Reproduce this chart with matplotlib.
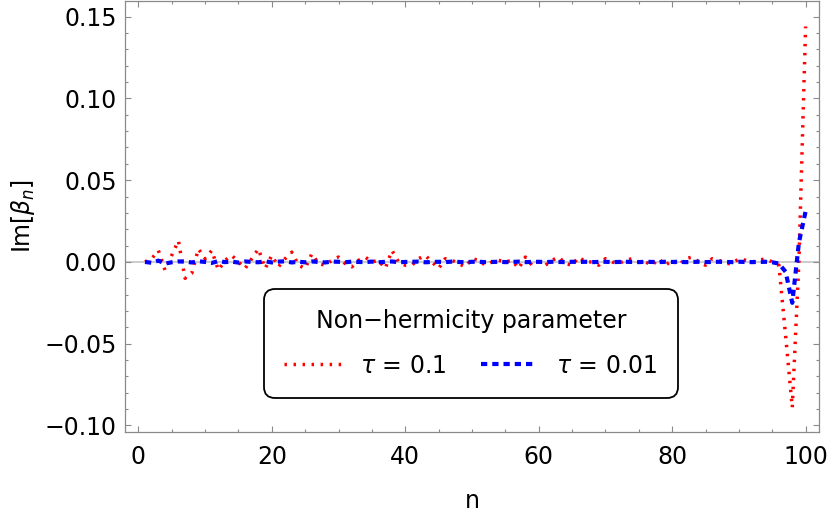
import matplotlib
matplotlib.use("Agg")
import matplotlib.pyplot as plt
from matplotlib.ticker import MultipleLocator

# values, n = 1..100
N = list(range(1, 101))

TAU_01 = [  # tau = 0.1 (red, dotted)
    0.000, 0.002, 0.007, -0.005, 0.004, 0.013, -0.010, -0.007, 0.008, 0.002,
    0.007, -0.005, 0.001, 0.004, 0.000, -0.004, 0.002, 0.008, -0.004, 0.004,
    -0.003, 0.002, 0.006, -0.002, -0.004, 0.005, -0.001, -0.002, 0.001, 0.003,
    -0.001, -0.003, 0.001, 0.003, 0.000, 0.001, -0.004, 0.007, 0.000, -0.002,
    -0.002, 0.002, 0.004, 0.000, -0.004, 0.002, 0.001, -0.001, -0.003, 0.002,
    0.001, -0.002, 0.000, 0.001, 0.000, 0.001, -0.004, 0.003, -0.002, 0.000,
    -0.002, 0.001, 0.003, -0.001, -0.002, 0.003, 0.000, 0.000, -0.002, 0.002,
    0.000, -0.001, 0.001, 0.002, 0.000, 0.000, -0.002, 0.002, -0.002, 0.001,
    -0.002, 0.002, 0.003, 0.000, -0.002, 0.002, 0.001, -0.001, -0.001, 0.002,
    0.001, 0.000, 0.001, 0.002, 0.000, -0.002, -0.045, -0.089, 0.001, 0.144,
]

TAU_001 = [  # tau = 0.01 (blue, dashed)
    0.0000, -0.0005, 0.0008, -0.0010, -0.0002, 0.0003, 0.0002, -0.0003, 0.0004, 0.0000,
    -0.0006, 0.0005, -0.0001, 0.0002, -0.0004, 0.0003, 0.0000, -0.0002, 0.0004, -0.0003,
    0.0002, 0.0004, -0.0003, 0.0001, -0.0002, 0.0003, 0.0000, -0.0003, 0.0002, 0.0001,
    -0.0002, 0.0002, 0.0000, -0.0001, 0.0002, -0.0002, 0.0001, 0.0003, -0.0002, 0.0000,
    0.0001, 0.0002, -0.0002, 0.0000, 0.0001, -0.0001, 0.0002, 0.0000, -0.0002, 0.0001,
    0.0001, -0.0001, 0.0000, 0.0001, -0.0001, 0.0000, 0.0002, -0.0001, 0.0000, 0.0001,
    -0.0001, 0.0001, 0.0000, -0.0001, 0.0001, 0.0000, 0.0001, -0.0001, 0.0000, 0.0001,
    -0.0001, 0.0000, 0.0001, 0.0000, -0.0001, 0.0001, 0.0000, -0.0001, 0.0001, 0.0000,
    0.0001, -0.0001, 0.0000, 0.0001, -0.0001, 0.0000, 0.0001, 0.0000, -0.0001, 0.0001,
    0.0000, -0.0001, 0.0000, 0.0001, -0.0002, -0.0010, -0.0060, -0.0250, 0.0120, 0.0310,
]

LABELS = [r"$\tau$ = 0.1", r"$\tau$ = 0.01"]
LEGEND_TITLE = "Non\u2212hermicity parameter"

FRAME = "#8a8a8a"
RED = "#ff0000"
BLUE = "#0000ff"
ZERO = "#c4c4c4"
FS = 17

plt.rcParams.update({
    "font.family": ["DejaVu Sans"],
    "font.size": FS,
    "mathtext.fontset": "dejavusans",
})

fig = plt.figure(figsize=(8.3, 5.17), dpi=100)
ax = fig.add_axes([0.1506, 0.1644, 0.8361, 0.8337])

ax.axhline(0, color=ZERO, lw=1.2, zorder=1)
ax.plot(N, TAU_01, color=RED, lw=2.5, linestyle=(0, (0.7, 1.9)),
        dash_capstyle="butt", label=LABELS[0], zorder=2)
ax.plot(N, TAU_001, color=BLUE, lw=3.0, linestyle=(0, (1.5, 1.2)),
        dash_capstyle="butt", label=LABELS[1], zorder=3)

ax.set_xlim(-2, 102)
ax.set_ylim(-0.104, 0.1596)
ax.xaxis.set_major_locator(MultipleLocator(20))
ax.xaxis.set_minor_locator(MultipleLocator(5))
ax.yaxis.set_major_locator(MultipleLocator(0.05))
ax.yaxis.set_minor_locator(MultipleLocator(0.01))
ax.yaxis.set_major_formatter(lambda v, p: ("%.2f" % v).replace("-", "\u2212"))

for s in ax.spines.values():
    s.set_color(FRAME)
    s.set_linewidth(0.9)
ax.tick_params(which="both", direction="in", top=True, right=True,
               color=FRAME, width=0.8, labelsize=FS, labelcolor="black")
ax.tick_params(which="major", length=4.5)
ax.tick_params(which="minor", length=2.5)
ax.tick_params(axis="x", which="major", pad=9)
ax.tick_params(axis="y", which="major", pad=6)

ax.set_xlabel("n", fontsize=FS, labelpad=15)
ax.set_ylabel(r"Im[$\beta_n$]", fontsize=FS, labelpad=5)

leg = ax.legend(title=LEGEND_TITLE, ncol=2, loc="center",
                bbox_to_anchor=(0.4986, 0.2053), fontsize=FS,
                title_fontsize=FS, frameon=True, framealpha=1,
                edgecolor="black", handlelength=2.4, handletextpad=0.8,
                columnspacing=1.45, borderpad=0.85, labelspacing=0.85)
frame = leg.get_frame()
frame.set_linewidth(1.3)
frame.set_boxstyle("round,pad=0,rounding_size=0.45")

fig.savefig("out.png", dpi=100)
